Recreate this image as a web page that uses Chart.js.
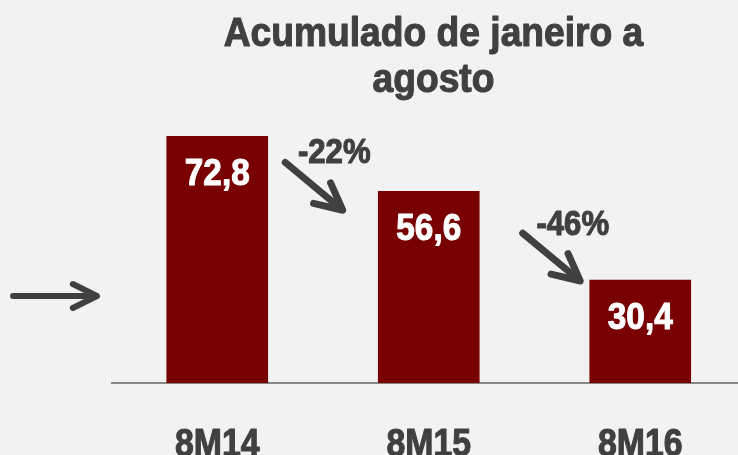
<!DOCTYPE html>
<html>
<head>
<meta charset="utf-8">
<script src="https://cdn.jsdelivr.net/npm/chart.js@4/dist/chart.umd.min.js"></script>
<style>
  html, body { margin:0; padding:0; background:#f2f2f2; overflow:hidden; }
  canvas { display:block; }
</style>
</head>
<body>
<canvas id="chart" width="746" height="455"></canvas>
<script>
// data
const categories = ['8M14', '8M15', '8M16'];
const values = [72.8, 56.6, 30.4];
const valueLabels = ['72,8', '56,6', '30,4'];
const changes = ['-22%', '-46%'];
const titleLines = ['Acumulado de janeiro a', 'agosto'];

const FONT = '"Liberation Sans", Arial, sans-serif';
const GREY = '#404040';
const BAR = '#780000';

// no narrow font installed, so squeeze the bold face sideways (and thicken it a bit)
function narrowText(ctx, text, x, y, size, squeeze, color) {
  ctx.save();
  ctx.font = 'bold ' + size + 'px ' + FONT;
  ctx.fillStyle = color;
  ctx.strokeStyle = color;
  ctx.lineWidth = 1.1;
  ctx.lineJoin = 'round';
  ctx.translate(x, y);
  ctx.scale(squeeze, 1);
  ctx.fillText(text, 0, 0);
  ctx.strokeText(text, 0, 0);
  ctx.restore();
}

function arrow(ctx, x1, y1, x2, y2, head, width) {
  const a = Math.atan2(y2 - y1, x2 - x1);
  ctx.save();
  ctx.strokeStyle = GREY;
  ctx.lineWidth = width;
  ctx.lineCap = 'round';
  ctx.lineJoin = 'round';
  ctx.beginPath();
  ctx.moveTo(x1, y1);
  ctx.lineTo(x2 - Math.cos(a) * 3, y2 - Math.sin(a) * 3);
  ctx.stroke();
  ctx.beginPath();
  ctx.moveTo(x2 - head * Math.cos(a - 0.46), y2 - head * Math.sin(a - 0.46));
  ctx.lineTo(x2, y2);
  ctx.lineTo(x2 - head * Math.cos(a + 0.46), y2 - head * Math.sin(a + 0.46));
  ctx.stroke();
  ctx.restore();
}

const decor = {
  id: 'decor',
  afterDraw(chart) {
    const ctx = chart.ctx;
    const xs = chart.scales.x, ys = chart.scales.y;
    ctx.save();
    ctx.textAlign = 'center';
    ctx.textBaseline = 'alphabetic';

    // title
    narrowText(ctx, titleLines[0], 433.5, 46, 40, 0.93, GREY);
    narrowText(ctx, titleLines[1], 433.5, 92, 40, 0.93, GREY);

    // values inside bars
    values.forEach((v, i) => {
      narrowText(ctx, valueLabels[i], xs.getPixelForValue(i), ys.getPixelForValue(v) + 49, 37, 0.9, '#ffffff');
    });

    // category labels
    categories.forEach((c, i) => {
      narrowText(ctx, c, xs.getPixelForValue(i), 456, 38, 0.89, GREY);
    });

    // change arrows between bars
    const x0 = xs.getPixelForValue(0), x1 = xs.getPixelForValue(1), x2 = xs.getPixelForValue(2);
    const y0 = ys.getPixelForValue(values[0]), y1 = ys.getPixelForValue(values[1]), y2 = ys.getPixelForValue(values[2]);
    narrowText(ctx, changes[0], x0 + 117, y0 + 27, 35, 0.89, GREY);
    arrow(ctx, x0 + 68, y0 + 26, x1 - 86, y1 + 19, 30, 7);
    narrowText(ctx, changes[1], x1 + 144, y1 + 44, 35, 0.89, GREY);
    arrow(ctx, x1 + 94, y1 + 42, x2 - 60, y2 + 1, 30, 7);

    // lead-in arrow on the left
    arrow(ctx, 13, 296, 97, 296, 27, 6);
    ctx.restore();
  }
};

new Chart(document.getElementById('chart'), {
  type: 'bar',
  data: {
    labels: categories,
    datasets: [{
      data: values,
      backgroundColor: BAR,
      borderWidth: 0,
      barThickness: 101
    }]
  },
  options: {
    responsive: false,
    animation: false,
    events: [],
    layout: { padding: { top: 112, bottom: 72, left: 111.5, right: 0 } },
    plugins: { legend: { display: false }, tooltip: { enabled: false }, title: { display: false } },
    scales: {
      x: {
        offset: true,
        grid: { display: false, drawTicks: false },
        border: { display: true, color: '#868686', width: 2 },
        ticks: { display: false }
      },
      y: { display: false, min: 0, max: 80 }
    }
  },
  plugins: [decor]
});
</script>
</body>
</html>
